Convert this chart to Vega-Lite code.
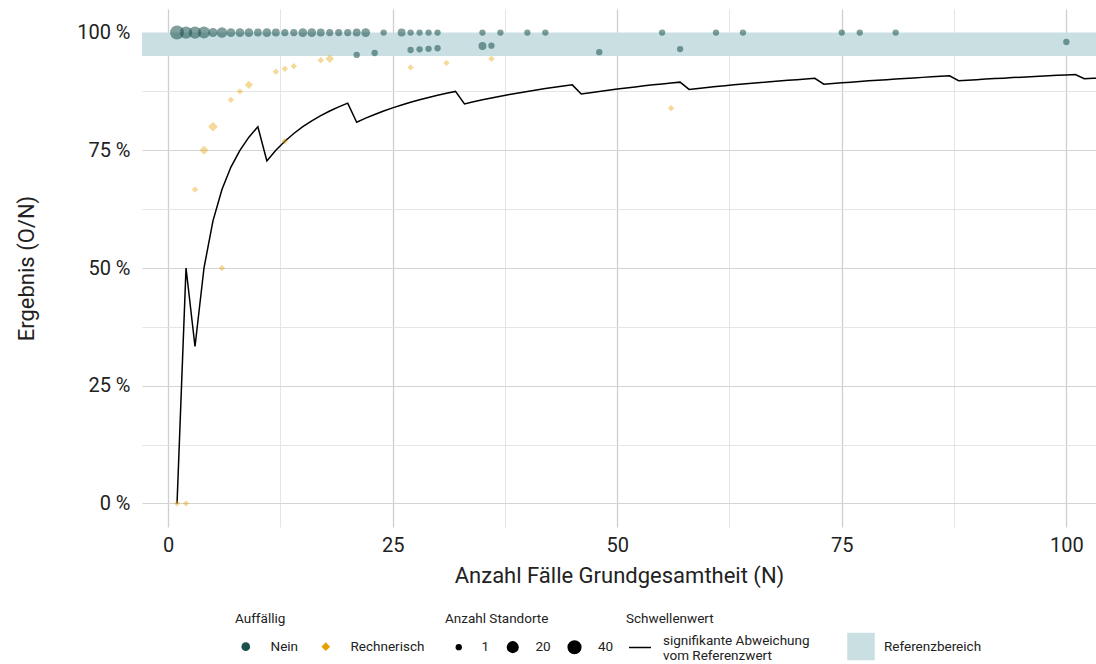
{
  "$schema": "https://vega.github.io/schema/vega-lite/v6.json",
  "width": 954,
  "height": 518,
  "autosize": {"type": "none"},
  "padding": {"left": 142, "top": 9, "right": 0, "bottom": 137},
  "datasets": {
    "punkte": [
      {"N": 1, "Ergebnis": 1, "Standorte": 38, "Auffaellig": "Nein"},
      {"N": 2, "Ergebnis": 1, "Standorte": 22, "Auffaellig": "Nein"},
      {"N": 3, "Ergebnis": 1, "Standorte": 22, "Auffaellig": "Nein"},
      {"N": 4, "Ergebnis": 1, "Standorte": 20, "Auffaellig": "Nein"},
      {"N": 5, "Ergebnis": 1, "Standorte": 6, "Auffaellig": "Nein"},
      {"N": 6, "Ergebnis": 1, "Standorte": 11, "Auffaellig": "Nein"},
      {"N": 7, "Ergebnis": 1, "Standorte": 5, "Auffaellig": "Nein"},
      {"N": 8, "Ergebnis": 1, "Standorte": 5, "Auffaellig": "Nein"},
      {"N": 9, "Ergebnis": 1, "Standorte": 5, "Auffaellig": "Nein"},
      {"N": 10, "Ergebnis": 1, "Standorte": 3, "Auffaellig": "Nein"},
      {"N": 11, "Ergebnis": 1, "Standorte": 5, "Auffaellig": "Nein"},
      {"N": 12, "Ergebnis": 1, "Standorte": 3, "Auffaellig": "Nein"},
      {"N": 13, "Ergebnis": 1, "Standorte": 2, "Auffaellig": "Nein"},
      {"N": 14, "Ergebnis": 1, "Standorte": 2, "Auffaellig": "Nein"},
      {"N": 15, "Ergebnis": 1, "Standorte": 5, "Auffaellig": "Nein"},
      {"N": 16, "Ergebnis": 1, "Standorte": 5, "Auffaellig": "Nein"},
      {"N": 17, "Ergebnis": 1, "Standorte": 3, "Auffaellig": "Nein"},
      {"N": 18, "Ergebnis": 1, "Standorte": 2, "Auffaellig": "Nein"},
      {"N": 19, "Ergebnis": 1, "Standorte": 2, "Auffaellig": "Nein"},
      {"N": 20, "Ergebnis": 1, "Standorte": 2, "Auffaellig": "Nein"},
      {"N": 21, "Ergebnis": 1, "Standorte": 3, "Auffaellig": "Nein"},
      {"N": 22, "Ergebnis": 1, "Standorte": 5, "Auffaellig": "Nein"},
      {"N": 24, "Ergebnis": 1, "Standorte": 1, "Auffaellig": "Nein"},
      {"N": 26, "Ergebnis": 1, "Standorte": 3, "Auffaellig": "Nein"},
      {"N": 27, "Ergebnis": 1, "Standorte": 1, "Auffaellig": "Nein"},
      {"N": 28, "Ergebnis": 1, "Standorte": 1, "Auffaellig": "Nein"},
      {"N": 29, "Ergebnis": 1, "Standorte": 1, "Auffaellig": "Nein"},
      {"N": 30, "Ergebnis": 1, "Standorte": 1, "Auffaellig": "Nein"},
      {"N": 35, "Ergebnis": 1, "Standorte": 1, "Auffaellig": "Nein"},
      {"N": 37, "Ergebnis": 1, "Standorte": 1, "Auffaellig": "Nein"},
      {"N": 40, "Ergebnis": 1, "Standorte": 1, "Auffaellig": "Nein"},
      {"N": 42, "Ergebnis": 1, "Standorte": 1, "Auffaellig": "Nein"},
      {"N": 55, "Ergebnis": 1, "Standorte": 1, "Auffaellig": "Nein"},
      {"N": 61, "Ergebnis": 1, "Standorte": 1, "Auffaellig": "Nein"},
      {"N": 64, "Ergebnis": 1, "Standorte": 1, "Auffaellig": "Nein"},
      {"N": 75, "Ergebnis": 1, "Standorte": 1, "Auffaellig": "Nein"},
      {"N": 77, "Ergebnis": 1, "Standorte": 1, "Auffaellig": "Nein"},
      {"N": 81, "Ergebnis": 1, "Standorte": 1, "Auffaellig": "Nein"},
      {"N": 21, "Ergebnis": 0.9524, "Standorte": 1, "Auffaellig": "Nein"},
      {"N": 23, "Ergebnis": 0.9565, "Standorte": 1, "Auffaellig": "Nein"},
      {"N": 27, "Ergebnis": 0.963, "Standorte": 1, "Auffaellig": "Nein"},
      {"N": 28, "Ergebnis": 0.9643, "Standorte": 1, "Auffaellig": "Nein"},
      {"N": 29, "Ergebnis": 0.9655, "Standorte": 1, "Auffaellig": "Nein"},
      {"N": 30, "Ergebnis": 0.9667, "Standorte": 1, "Auffaellig": "Nein"},
      {"N": 35, "Ergebnis": 0.9714, "Standorte": 3, "Auffaellig": "Nein"},
      {"N": 36, "Ergebnis": 0.9722, "Standorte": 1, "Auffaellig": "Nein"},
      {"N": 48, "Ergebnis": 0.9583, "Standorte": 1, "Auffaellig": "Nein"},
      {"N": 57, "Ergebnis": 0.9649, "Standorte": 1, "Auffaellig": "Nein"},
      {"N": 100, "Ergebnis": 0.98, "Standorte": 1, "Auffaellig": "Nein"},
      {"N": 1, "Ergebnis": 0, "Standorte": 1, "Auffaellig": "Rechnerisch"},
      {"N": 2, "Ergebnis": 0, "Standorte": 1, "Auffaellig": "Rechnerisch"},
      {"N": 3, "Ergebnis": 0.6667, "Standorte": 1, "Auffaellig": "Rechnerisch"},
      {"N": 4, "Ergebnis": 0.75, "Standorte": 6, "Auffaellig": "Rechnerisch"},
      {"N": 5, "Ergebnis": 0.8, "Standorte": 8, "Auffaellig": "Rechnerisch"},
      {"N": 6, "Ergebnis": 0.5, "Standorte": 1, "Auffaellig": "Rechnerisch"},
      {"N": 7, "Ergebnis": 0.8571, "Standorte": 1, "Auffaellig": "Rechnerisch"},
      {"N": 8, "Ergebnis": 0.875, "Standorte": 1, "Auffaellig": "Rechnerisch"},
      {"N": 9, "Ergebnis": 0.8889, "Standorte": 4, "Auffaellig": "Rechnerisch"},
      {"N": 12, "Ergebnis": 0.9167, "Standorte": 1, "Auffaellig": "Rechnerisch"},
      {"N": 13, "Ergebnis": 0.9231, "Standorte": 1, "Auffaellig": "Rechnerisch"},
      {"N": 13, "Ergebnis": 0.7692, "Standorte": 1, "Auffaellig": "Rechnerisch"},
      {"N": 14, "Ergebnis": 0.9286, "Standorte": 1, "Auffaellig": "Rechnerisch"},
      {"N": 17, "Ergebnis": 0.9412, "Standorte": 1, "Auffaellig": "Rechnerisch"},
      {"N": 18, "Ergebnis": 0.9444, "Standorte": 4, "Auffaellig": "Rechnerisch"},
      {"N": 27, "Ergebnis": 0.9259, "Standorte": 1, "Auffaellig": "Rechnerisch"},
      {"N": 31, "Ergebnis": 0.9355, "Standorte": 1, "Auffaellig": "Rechnerisch"},
      {"N": 36, "Ergebnis": 0.9444, "Standorte": 1, "Auffaellig": "Rechnerisch"},
      {"N": 56, "Ergebnis": 0.8393, "Standorte": 1, "Auffaellig": "Rechnerisch"}
    ],
    "schwelle": [
      {"N": 1, "Wert": 0}, {"N": 2, "Wert": 0.5}, {"N": 3, "Wert": 0.3333}, {"N": 4, "Wert": 0.5},
      {"N": 5, "Wert": 0.6}, {"N": 6, "Wert": 0.6667}, {"N": 7, "Wert": 0.7143}, {"N": 8, "Wert": 0.75},
      {"N": 9, "Wert": 0.7778}, {"N": 10, "Wert": 0.8}, {"N": 11, "Wert": 0.7273}, {"N": 12, "Wert": 0.75},
      {"N": 13, "Wert": 0.7692}, {"N": 14, "Wert": 0.7857}, {"N": 15, "Wert": 0.8}, {"N": 16, "Wert": 0.8125},
      {"N": 17, "Wert": 0.8235}, {"N": 18, "Wert": 0.8333}, {"N": 19, "Wert": 0.8421}, {"N": 20, "Wert": 0.85},
      {"N": 21, "Wert": 0.8095}, {"N": 22, "Wert": 0.8182}, {"N": 23, "Wert": 0.8261}, {"N": 24, "Wert": 0.8333},
      {"N": 25, "Wert": 0.84}, {"N": 26, "Wert": 0.8462}, {"N": 27, "Wert": 0.8519}, {"N": 28, "Wert": 0.8571},
      {"N": 29, "Wert": 0.8621}, {"N": 30, "Wert": 0.8667}, {"N": 31, "Wert": 0.871}, {"N": 32, "Wert": 0.875},
      {"N": 33, "Wert": 0.8485}, {"N": 34, "Wert": 0.8529}, {"N": 35, "Wert": 0.8571}, {"N": 36, "Wert": 0.8611},
      {"N": 37, "Wert": 0.8649}, {"N": 38, "Wert": 0.8684}, {"N": 39, "Wert": 0.8718}, {"N": 40, "Wert": 0.875},
      {"N": 41, "Wert": 0.878}, {"N": 42, "Wert": 0.881}, {"N": 43, "Wert": 0.8837}, {"N": 44, "Wert": 0.8864},
      {"N": 45, "Wert": 0.8889}, {"N": 46, "Wert": 0.8696}, {"N": 47, "Wert": 0.8723}, {"N": 48, "Wert": 0.875},
      {"N": 49, "Wert": 0.8776}, {"N": 50, "Wert": 0.88}, {"N": 51, "Wert": 0.8824}, {"N": 52, "Wert": 0.8846},
      {"N": 53, "Wert": 0.8868}, {"N": 54, "Wert": 0.8889}, {"N": 55, "Wert": 0.8909}, {"N": 56, "Wert": 0.8929},
      {"N": 57, "Wert": 0.8947}, {"N": 58, "Wert": 0.8793}, {"N": 59, "Wert": 0.8814}, {"N": 60, "Wert": 0.8833},
      {"N": 61, "Wert": 0.8852}, {"N": 62, "Wert": 0.8871}, {"N": 63, "Wert": 0.8889}, {"N": 64, "Wert": 0.8906},
      {"N": 65, "Wert": 0.8923}, {"N": 66, "Wert": 0.8939}, {"N": 67, "Wert": 0.8955}, {"N": 68, "Wert": 0.8971},
      {"N": 69, "Wert": 0.8986}, {"N": 70, "Wert": 0.9}, {"N": 71, "Wert": 0.9014}, {"N": 72, "Wert": 0.9028},
      {"N": 73, "Wert": 0.8904}, {"N": 74, "Wert": 0.8919}, {"N": 75, "Wert": 0.8933}, {"N": 76, "Wert": 0.8947},
      {"N": 77, "Wert": 0.8961}, {"N": 78, "Wert": 0.8974}, {"N": 79, "Wert": 0.8987}, {"N": 80, "Wert": 0.9},
      {"N": 81, "Wert": 0.9012}, {"N": 82, "Wert": 0.9024}, {"N": 83, "Wert": 0.9036}, {"N": 84, "Wert": 0.9048},
      {"N": 85, "Wert": 0.9059}, {"N": 86, "Wert": 0.907}, {"N": 87, "Wert": 0.908}, {"N": 88, "Wert": 0.8977},
      {"N": 89, "Wert": 0.8989}, {"N": 90, "Wert": 0.9}, {"N": 91, "Wert": 0.9011}, {"N": 92, "Wert": 0.9022},
      {"N": 93, "Wert": 0.9032}, {"N": 94, "Wert": 0.9043}, {"N": 95, "Wert": 0.9053}, {"N": 96, "Wert": 0.9063},
      {"N": 97, "Wert": 0.9072}, {"N": 98, "Wert": 0.9082}, {"N": 99, "Wert": 0.9091}, {"N": 100, "Wert": 0.91},
      {"N": 101, "Wert": 0.9109}, {"N": 102, "Wert": 0.902}, {"N": 103, "Wert": 0.9029}, {"N": 104, "Wert": 0.9038}
    ],
    "band": [
      {"unten": 0.95, "oben": 1.0, "Ref": "Referenzbereich"}
    ]
  },
  "layer": [
    {
      "data": {"name": "punkte"},
      "transform": [{"filter": "datum.N < 0"}],
      "mark": {"type": "point", "filled": true, "strokeWidth": 0, "opacity": 1},
      "encoding": {
        "x": {
          "field": "N", "type": "quantitative", "title": "Anzahl Fälle Grundgesamtheit (N)",
          "scale": {"domain": [-2.9, 103.3], "nice": false, "zero": false},
          "axis": {
            "values": [0, 12.5, 25, 37.5, 50, 62.5, 75, 87.5, 100],
            "labelExpr": "datum.value % 25 === 0 ? format(datum.value, 'd') : ''",
            "gridColor": {"condition": {"test": "datum.value % 25 === 0", "value": "#cfcfcf"}, "value": "#e2e2e2"},
            "gridWidth": {"condition": {"test": "datum.value % 25 === 0", "value": 1.3}, "value": 0.9},
            "labelPadding": 8, "titlePadding": 10
          }
        },
        "y": {
          "field": "Ergebnis", "type": "quantitative", "title": "Ergebnis (O/N)",
          "scale": {"domain": [-0.05, 1.05], "nice": false, "zero": false},
          "axis": {
            "values": [0, 0.125, 0.25, 0.375, 0.5, 0.625, 0.75, 0.875, 1],
            "labelExpr": "round(datum.value * 1000) % 250 === 0 ? (round(datum.value * 100) + ' %') : ''",
            "gridColor": {"condition": {"test": "round(datum.value * 1000) % 250 === 0", "value": "#d4d4d4"}, "value": "#e2e2e2"},
            "gridWidth": {"condition": {"test": "round(datum.value * 1000) % 250 === 0", "value": 1.2}, "value": 0.9},
            "labelPadding": 12, "titlePadding": 38
          }
        },
        "color": {
          "field": "Auffaellig", "type": "nominal", "title": "Auffällig",
          "scale": {"domain": ["Nein", "Rechnerisch"], "range": ["#1a504d", "#e6a100"]},
          "legend": {"orient": "none", "legendX": 93, "legendY": 603, "symbolSize": 75, "symbolOpacity": 1, "symbolStrokeWidth": 0, "symbolOffset": 4, "columnPadding": 16, "labelOffset": 18}
        },
        "shape": {
          "field": "Auffaellig", "type": "nominal", "title": "Auffällig",
          "scale": {"domain": ["Nein", "Rechnerisch"], "range": ["circle", "diamond"]}
        },
        "size": {
          "field": "Standorte", "type": "quantitative", "title": "Anzahl Standorte",
          "scale": {"type": "sqrt", "domain": [1, 40], "range": [40, 200], "zero": false},
          "legend": {"orient": "none", "legendX": 303, "legendY": 603, "values": [1, 20, 40], "symbolType": "circle", "symbolFillColor": "black", "symbolStrokeColor": "black", "symbolStrokeWidth": 0, "symbolOpacity": 1, "symbolOffset": 7, "columnPadding": 9}
        }
      }
    },
    {
      "data": {"name": "schwelle"},
      "mark": {"type": "line", "strokeWidth": 1.5, "clip": true},
      "encoding": {
        "x": {"field": "N", "type": "quantitative", "title": "Anzahl Fälle Grundgesamtheit (N)"},
        "y": {"field": "Wert", "type": "quantitative", "title": "Ergebnis (O/N)"},
        "stroke": {
          "datum": "signifikante Abweichung vom Referenzwert", "type": "nominal",
          "scale": {"range": ["#000000"]},
          "legend": {
            "orient": "none", "legendX": 484, "legendY": 603,
            "title": "Schwellenwert", "symbolType": "stroke", "symbolSize": 484, "symbolStrokeWidth": 1.5,
            "labelOffset": 11, "labelBaseline": "bottom", "titlePadding": 10, "symbolOffset": 2,
            "labelExpr": "['signifikante Abweichung', 'vom Referenzwert']"
          }
        }
      }
    },
    {
      "data": {"name": "band"},
      "mark": {"type": "rect"},
      "encoding": {
        "y": {"field": "oben", "type": "quantitative", "title": "Ergebnis (O/N)"},
        "y2": {"field": "unten"},
        "fill": {
          "field": "Ref", "type": "nominal",
          "scale": {"range": ["#cadfe1"]},
          "legend": {
            "orient": "none", "legendX": 705, "legendY": 603,
            "title": " ", "symbolType": "square", "symbolSize": 756, "symbolStrokeWidth": 0, "symbolOpacity": 1,
            "titlePadding": 7, "labelOffset": 9, "symbolOffset": 0
          }
        }
      }
    },
    {
      "data": {"name": "punkte"},
      "transform": [{"filter": "datum.Auffaellig === 'Nein'"}],
      "mark": {"type": "point", "filled": true, "strokeWidth": 0, "clip": true, "opacity": 0.55},
      "encoding": {
        "x": {"field": "N", "type": "quantitative", "title": "Anzahl Fälle Grundgesamtheit (N)"},
        "y": {"field": "Ergebnis", "type": "quantitative", "title": "Ergebnis (O/N)"},
        "color": {"field": "Auffaellig", "type": "nominal", "title": "Auffällig", "legend": null},
        "shape": {"field": "Auffaellig", "type": "nominal", "title": "Auffällig", "legend": null},
        "size": {"field": "Standorte", "type": "quantitative", "title": "Anzahl Standorte", "legend": null}
      }
    },
    {
      "data": {"name": "punkte"},
      "transform": [{"filter": "datum.Auffaellig === 'Rechnerisch'"}],
      "mark": {"type": "point", "filled": true, "strokeWidth": 0, "clip": true, "opacity": 0.4},
      "encoding": {
        "x": {"field": "N", "type": "quantitative", "title": "Anzahl Fälle Grundgesamtheit (N)"},
        "y": {"field": "Ergebnis", "type": "quantitative", "title": "Ergebnis (O/N)"},
        "color": {"field": "Auffaellig", "type": "nominal", "title": "Auffällig", "legend": null},
        "shape": {"field": "Auffaellig", "type": "nominal", "title": "Auffällig", "legend": null},
        "size": {"field": "Standorte", "type": "quantitative", "title": "Anzahl Standorte", "legend": null}
      }
    }
  ],
  "config": {
    "font": "Roboto",
    "view": {"stroke": null},
    "axis": {
      "domain": false,
      "ticks": false,
      "labelFontSize": 20,
      "labelColor": "#222222",
      "titleFontSize": 22,
      "titleFontWeight": "normal",
      "titleColor": "#222222"
    },
    "legend": {
      "direction": "horizontal",
      "titleFontSize": 13.5,
      "titleFontWeight": "normal",
      "titleColor": "#222222",
      "labelFontSize": 13.5,
      "labelColor": "#222222",
      "titleOrient": "top",
      "titleAnchor": "start",
      "titlePadding": 14,
      "columnPadding": 19,
      "labelOffset": 16
    }
  }
}
